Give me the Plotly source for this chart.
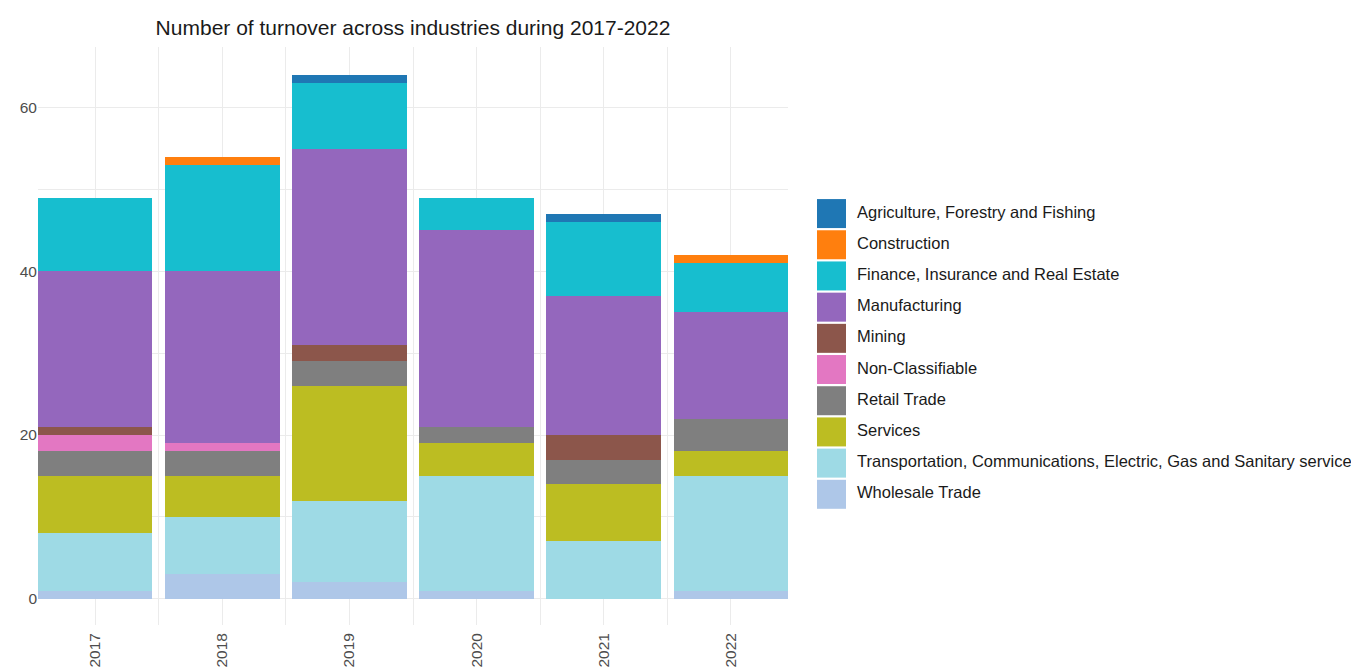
import plotly.graph_objects as go

years = [2017, 2018, 2019, 2020, 2021, 2022]
industries = [
    "Agriculture, Forestry and Fishing",
    "Construction",
    "Finance, Insurance and Real Estate",
    "Manufacturing",
    "Mining",
    "Non-Classifiable",
    "Retail Trade",
    "Services",
    "Transportation, Communications, Electric, Gas and Sanitary service",
    "Wholesale Trade",
]
agriculture = [0, 0, 1, 0, 1, 0]
construction = [0, 1, 0, 0, 0, 1]
finance = [9, 13, 8, 4, 9, 6]
manufacturing = [19, 21, 24, 24, 17, 13]
mining = [1, 0, 2, 0, 3, 0]
non_classifiable = [2, 1, 0, 0, 0, 0]
retail = [3, 3, 3, 2, 3, 4]
services = [7, 5, 14, 4, 7, 3]
transportation = [7, 7, 10, 14, 7, 14]
wholesale = [1, 3, 2, 1, 0, 1]

colors = ["#1f77b4", "#ff7f0e", "#17becf", "#9467bd", "#8c564b",
          "#e377c2", "#7f7f7f", "#bcbd22", "#9edae5", "#aec7e8"]

series = [agriculture, construction, finance, manufacturing, mining,
          non_classifiable, retail, services, transportation, wholesale]

FONT = "Liberation Sans, Arial, sans-serif"
OFF = 8  # browser body margin
W, H = 1359 - OFF, 669 - OFF
ML, MR, MT, MB = 38 - OFF, 3, 47 - OFF, 44
PW = W - ML - MR
panel_right = 788 - OFF
legend_left = 817 - OFF

fig = go.Figure()
# stack from bottom: Wholesale first ... Agriculture last
for name, vals, col in reversed(list(zip(industries, series, colors))):
    fig.add_trace(go.Bar(
        x=years, y=vals, name=name, marker=dict(color=col, line=dict(width=0)),
        showlegend=False, xaxis="x", yaxis="y",
    ))

# custom legend (large swatches like the reference)
idx = list(range(len(industries)))
fig.add_trace(go.Scatter(
    x=[14.5] * len(industries), y=idx, mode="markers",
    marker=dict(symbol="square", size=29, color=colors, line=dict(width=0)),
    xaxis="x2", yaxis="y2", showlegend=False, hoverinfo="skip", cliponaxis=False,
))
fig.add_trace(go.Scatter(
    x=[40] * len(industries), y=idx, mode="text", text=industries,
    textposition="middle right",
    textfont=dict(family=FONT, size=16.5, color="#1a1a1a"),
    xaxis="x2", yaxis="y2", showlegend=False, hoverinfo="skip", cliponaxis=False,
))

grid = "#ebebeb"
fig.update_layout(
    width=W, height=H,
    margin=dict(l=ML, r=MR, t=MT, b=MB, autoexpand=False),
    paper_bgcolor="white", plot_bgcolor="white",
    barmode="stack", bargap=0.1,
    font=dict(family=FONT, color="#4d4d4d"),
    title=dict(
        text="Number of turnover across industries during 2017-2022",
        font=dict(family=FONT, size=21, color="#1a1a1a"),
        xref="paper", x=((ML + panel_right) / 2 - ML) / PW, xanchor="center",
        yref="container", y=1 - (28 - OFF) / H, yanchor="middle",
    ),
    xaxis=dict(
        domain=[0, (panel_right - ML) / PW],
        range=[2016.55, 2022.45], tickmode="array", tickvals=years,
        ticktext=[str(y) for y in years], tickangle=-90,
        tickfont=dict(family=FONT, size=15.5, color="#4d4d4d"),
        ticklabelstandoff=4,
        showgrid=True, gridcolor=grid, gridwidth=1,
        minor=dict(tickmode="array", tickvals=[y + 0.5 for y in years[:-1]],
                   showgrid=True, gridcolor=grid, gridwidth=1),
        zeroline=False, showline=False, ticks="", automargin=False,
        fixedrange=True,
    ),
    yaxis=dict(
        domain=[0, 1], range=[-3.2, 67.4], tickmode="array",
        tickvals=[0, 20, 40, 60],
        tickfont=dict(family=FONT, size=15.5, color="#4d4d4d"),
        showgrid=True, gridcolor=grid, gridwidth=1,
        minor=dict(tickmode="array", tickvals=[10, 30, 50],
                   showgrid=True, gridcolor=grid, gridwidth=1),
        zeroline=False, showline=False, ticks="", automargin=False,
        fixedrange=True,
    ),
    xaxis2=dict(
        domain=[(legend_left - ML) / PW, 1],
        range=[0, PW * (1 - (legend_left - ML) / PW)],
        visible=False, anchor="y2", fixedrange=True,
    ),
    yaxis2=dict(
        domain=[0, 1], range=[13.19, -5.34], visible=False, anchor="x2",
        fixedrange=True,
    ),
)

fig.write_html("out.html")
